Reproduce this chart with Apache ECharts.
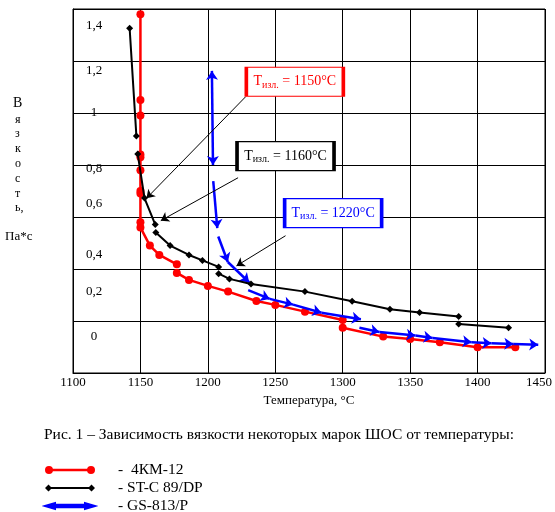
<!DOCTYPE html>
<html>
<head>
<meta charset="utf-8">
<title>Вязкость ШОС</title>
<script src="https://cdn.jsdelivr.net/npm/echarts@6/dist/echarts.min.js"></script>
<style>
  html, body { margin: 0; padding: 0; background: #fff; }
  #chart { width: 555px; height: 512px; }
</style>
</head>
<body>
<div id="chart"></div>
<script>
// температура, °C / вязкость, Па*с ; null = разрыв линии
var tempRed  = [1150, 1150, 1150, 1150, 1150, 1150, 1150, 1150, 1150, 1150, 1157, 1164, 1177, null,
                1177, 1186, 1200, 1215, 1236, 1250, 1272, 1300, null,
                1300, 1330, 1350, 1372, 1400, 1428];
var viscRed  = [1.38, 1.05, 0.99, 0.84, 0.83, 0.78, 0.70, 0.69, 0.58, 0.56, 0.49, 0.454, 0.418, null,
                0.385, 0.358, 0.335, 0.313, 0.277, 0.262, 0.236, 0.204, null,
                0.174, 0.14, 0.131, 0.118, 0.099, 0.099];

var tempBlack = [1142, 1147, null, 1148, 1153, 1161, null, 1161.4, 1172, 1186, 1196, 1208, null,
                 1208, 1216, 1232, 1272, 1307, 1335, 1357, 1386, null, 1386, 1423];
var viscBlack = [1.326, 0.912, null, 0.842, 0.673, 0.571, null, 0.54, 0.49, 0.454, 0.433, 0.408, null,
                 0.382, 0.362, 0.342, 0.313, 0.276, 0.245, 0.233, 0.217, null, 0.188, 0.174];

var tempBlue = [1203, 1203.8, null, 1204, 1207, null, 1207.7, 1214.8, 1230.7, null,
                1229.9, 1245.9, 1263.2, 1284.3, 1313.5, null,
                1312.4, 1327.2, 1353.9, 1366.7, 1395.6, 1410.3, 1426.5, 1445];
var viscBlue = [1.162, 0.80, null, 0.738, 0.557, null, 0.525, 0.427, 0.348, null,
                0.319, 0.285, 0.263, 0.232, 0.207, null,
                0.174, 0.158, 0.144, 0.135, 0.118, 0.114, 0.112, 0.109];
var blueBothEnds = [true, false, false, false, false];

var seriesNames = ['4КМ-12', 'ST-C 89/DP', 'GS-813/P'];

// подписи оси Y стоят не на линиях сетки
var yTickLabels = ['0', '0,2', '0,4', '0,6', '0,8', '1', '1,2', '1,4'];
var yTickLabelAt = [0.14, 0.313, 0.454, 0.653, 0.788, 1.0, 1.162, 1.335];

// выноски
var noteTemp = ['1150', '1160', '1220'];
var noteColor = ['#ff0000', '#000000', '#0000ff'];
var noteBoxAt = [[1264.5, 1.12], [1257.6, 0.834], [1292.9, 0.615]];
var noteFrom = [[1228.1, 1.063], [1222.4, 0.751], [1257.6, 0.528]];
var noteTo = [[1154.5, 0.672], [1165.1, 0.586], [1221.2, 0.412]];

var FONT = '"Liberation Serif", "Times New Roman", serif';
var X_MAX = 1450;

function toPoints(xs, ys) {
  var out = [];
  for (var i = 0; i < xs.length; i++) {
    out.push(xs[i] == null ? ['-', '-'] : [xs[i], ys[i]]);
  }
  return out;
}

// синяя кривая: каждый отрезок — отдельная стрелка
function toArrows(xs, ys) {
  var out = [], seg = 0;
  for (var i = 0; i < xs.length - 1; i++) {
    if (xs[i] == null) { seg++; continue; }
    if (xs[i + 1] == null) continue;
    var item = { coords: [[xs[i], ys[i]], [xs[i + 1], ys[i + 1]]] };
    if (blueBothEnds[seg]) item.symbol = ['arrow', 'arrow'];
    out.push(item);
  }
  return out;
}

var boxes = noteTemp.map(function (t, i) {
  return {
    coord: noteBoxAt[i],
    itemStyle: { color: '#fff', borderColor: noteColor[i], borderWidth: 2 },
    label: {
      show: true, position: 'inside',
      formatter: '{t|Т}{s|изл.}{t| = ' + t + '°C}',
      rich: {
        t: { fontFamily: FONT, fontSize: 14, color: noteColor[i] },
        s: { fontFamily: FONT, fontSize: 10, color: noteColor[i], padding: [7, 0, 0, 0] }
      }
    }
  };
});
var arrows = noteFrom.map(function (p, i) {
  return [{ coord: p }, { coord: noteTo[i] }];
});

var chart = echarts.init(document.getElementById('chart'));
var option = {
  animation: false,
  textStyle: { fontFamily: FONT },
  title: {
    text: 'Рис. 1 – Зависимость вязкости некоторых марок ШОС от температуры:',
    left: 44, top: 427, padding: 0,
    textStyle: { fontFamily: FONT, fontSize: 15.5, fontWeight: 'normal', color: '#000' }
  },
  legend: {
    orient: 'vertical', left: 44, top: 462, height: 60, padding: 0,
    itemWidth: 50, itemHeight: 8, itemGap: 2,
    formatter: function (n) { return n === seriesNames[0] ? '-  ' + n : '- ' + n; },
    textStyle: { fontFamily: FONT, fontSize: 15.5, lineHeight: 14, color: '#000', padding: [0, 0, 0, 18] },
    data: [
      { name: seriesNames[0], icon: 'path://M0,4a4,4 0 1,1 8,0a4,4 0 1,1 -8,0ZM4,2.8H46V5.2H4ZM42,4a4,4 0 1,1 8,0a4,4 0 1,1 -8,0Z' },
      { name: seriesNames[1], icon: 'path://M0,4L3.5,0.5L7,4L3.5,7.5ZM3.5,3H46.5V5H3.5ZM43,4L46.5,0.5L50,4L46.5,7.5Z' },
      { name: seriesNames[2], icon: 'path://M0,4L10,1L10,7ZM9,2.8H41V5.2H9ZM50,4L40,7L40,1Z' }
    ]
  },
  grid: {
    left: 73, right: 10, top: 9, bottom: 139,
    outerBoundsMode: 'none', containLabel: false,
    show: true, borderColor: '#000', borderWidth: 1
  },
  xAxis: {
    type: 'value', min: 1100, max: X_MAX, interval: 50,
    name: 'Температура, °C', nameLocation: 'middle', nameGap: 17,
    nameTextStyle: { fontFamily: FONT, fontSize: 13, color: '#000' },
    axisLine: { lineStyle: { color: '#000', width: 1 } },
    axisTick: { show: false },
    axisLabel: {
      fontFamily: FONT, fontSize: 13, color: '#000', margin: 3,
      formatter: function (v) { return v === X_MAX ? '{m|' + v + '}' : String(v); },
      rich: { m: { fontFamily: FONT, fontSize: 13, color: '#000', padding: [0, 12, 0, 0] } }
    },
    splitLine: { lineStyle: { color: '#000', width: 1 } }
  },
  yAxis: {
    type: 'value', min: 0, max: 1.4, interval: 0.2,
    axisLine: { show: true, lineStyle: { color: '#000', width: 1 } },
    axisTick: { show: false },
    axisLabel: {
      inside: true, align: 'center', margin: 21,
      fontFamily: FONT, fontSize: 13, color: '#000',
      customValues: yTickLabelAt,
      formatter: function (v) {
        var best = 0;
        for (var i = 1; i < yTickLabelAt.length; i++) {
          if (Math.abs(yTickLabelAt[i] - v) < Math.abs(yTickLabelAt[best] - v)) best = i;
        }
        return yTickLabels[best];
      }
    },
    splitLine: { lineStyle: { color: '#000', width: 1 } }
  },
  graphic: [
    { type: 'text', left: 13, top: 96, style: { text: 'В', font: '14px ' + FONT, fill: '#000' } },
    { type: 'text', left: 15, top: 112, style: { text: 'я\nз\nк\nо\nс\nт\nь,', font: '12px ' + FONT, lineHeight: 14.8, fill: '#000' } },
    { type: 'text', left: 5, top: 230, style: { text: 'Па*с', font: '13px ' + FONT, fill: '#000' } }
  ],
  series: [
    {
      name: seriesNames[0], type: 'line', z: 2,
      data: toPoints(tempRed, viscRed),
      connectNulls: false, showAllSymbol: true,
      symbol: 'circle', symbolSize: 8,
      lineStyle: { color: '#ff0000', width: 2.5 },
      itemStyle: { color: '#ff0000' }
    },
    {
      name: seriesNames[2], type: 'lines', coordinateSystem: 'cartesian2d', z: 3,
      data: toArrows(tempBlue, viscBlue),
      symbol: ['none', 'arrow'], symbolSize: 9,
      lineStyle: { color: '#0000ff', width: 2.5, opacity: 1 },
      itemStyle: { color: '#0000ff' }
    },
    {
      name: seriesNames[1], type: 'line', z: 4,
      data: toPoints(tempBlack, viscBlack),
      connectNulls: false, showAllSymbol: true,
      symbol: 'diamond', symbolSize: 7,
      lineStyle: { color: '#000', width: 2 },
      itemStyle: { color: '#000' },
      markLine: {
        silent: true, symbol: ['none', 'arrow'], symbolSize: 8,
        lineStyle: { color: '#000', width: 1, type: 'solid' },
        label: { show: false },
        data: arrows
      },
      markPoint: {
        silent: true, symbol: 'rect', symbolSize: [97, 29],
        data: boxes
      }
    }
  ]
};
chart.setOption(option);
</script>
</body>
</html>
